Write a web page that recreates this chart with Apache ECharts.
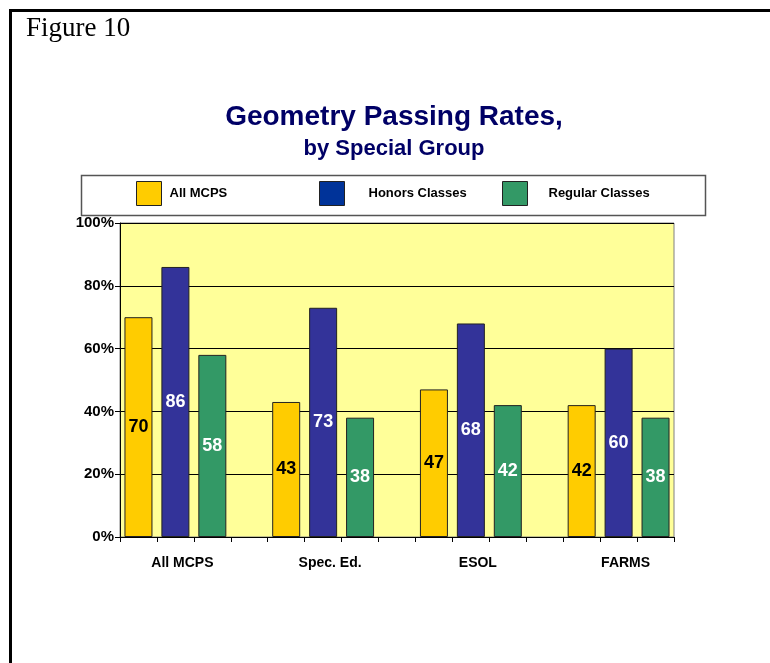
<!DOCTYPE html>
<html>
<head>
<meta charset="utf-8">
<script src="https://cdn.jsdelivr.net/npm/echarts@6/dist/echarts.min.js"></script>
<style>
  html, body { margin: 0; padding: 0; background: #fff; }
  #main { width: 770px; height: 663px; }
</style>
</head>
<body>
<div id="main"></div>
<script>
    // data
    var groups = ['All MCPS', 'Spec. Ed.', 'ESOL', 'FARMS'];
    var seriesNames = ['All MCPS', 'Honors Classes', 'Regular Classes'];
    var allMcps = [70, 43, 47, 42];
    var honors = [86, 73, 68, 60];
    var regular = [58, 38, 42, 38];
    var yTicks = [0, 20, 40, 60, 80, 100];

    var colors = ['#FFCC00', '#333399', '#339966'];
    var legendColors = ['#FFCC00', '#003399', '#339966'];
    var labelColors = ['#000', '#fff', '#fff'];
    var arial = '"Liberation Sans", Arial, sans-serif';

    // each group takes 3 bar slots plus one empty slot (none after the last)
    var slots = [];
    groups.forEach(function (g, gi) {
        for (var k = 0; k < 4; k++) {
            if (gi === groups.length - 1 && k === 3) break;
            slots.push(g + '#' + k);
        }
    });

    function slotData(values, k) {
        var arr = slots.map(function () { return '-'; });
        values.forEach(function (v, gi) { arr[gi * 4 + k] = v; });
        return arr;
    }

    var seriesValues = [allMcps, honors, regular];

    var myChart = echarts.init(document.getElementById('main'));
    var option = {
        animation: false,
        backgroundColor: '#fff',
        title: [{
            text: 'Figure 10',
            left: 26,
            top: 15,
            padding: 0,
            textStyle: {
                fontFamily: '"Liberation Serif", "Times New Roman", serif',
                fontWeight: 'normal',
                fontSize: 27,
                color: '#000'
            }
        }, {
            text: 'Geometry Passing Rates,',
            subtext: 'by Special Group',
            left: 394,
            top: 103,
            textAlign: 'center',
            padding: 0,
            itemGap: 7,
            textStyle: {
                fontFamily: arial,
                fontWeight: 'bold',
                fontSize: 28,
                color: '#000066'
            },
            subtextStyle: {
                fontFamily: arial,
                fontWeight: 'bold',
                fontSize: 22,
                color: '#000066'
            }
        }],
        graphic: [{
            type: 'rect',
            shape: { x: 10.5, y: 10.5, width: 900, height: 800 },
            style: { fill: 'none', stroke: '#000', lineWidth: 3 },
            silent: true
        }, {
            type: 'rect',
            z: -1,
            shape: { x: 81.5, y: 175.5, width: 624, height: 40 },
            style: { fill: '#fff', stroke: '#555', lineWidth: 1.5 },
            silent: true
        }],
        legend: [
            { left: 136, gap: 3 },
            { left: 319, gap: 19 },
            { left: 502, gap: 16 }
        ].map(function (p, i) {
            return {
                data: [seriesNames[i]],
                left: p.left,
                top: 181,
                padding: 0,
                icon: 'rect',
                itemWidth: 25,
                itemHeight: 24,
                selectedMode: false,
                itemStyle: { color: legendColors[i], borderColor: '#222', borderWidth: 1 },
                textStyle: {
                    fontFamily: arial,
                    fontWeight: 'bold',
                    fontSize: 13,
                    color: '#000',
                    padding: [8, 0, 0, p.gap]
                }
            };
        }),
        grid: {
            left: 120,
            right: 96,
            top: 223,
            bottom: 126,
            show: true,
            backgroundColor: '#FFFF99',
            borderColor: '#808080',
            borderWidth: 1
        },
        xAxis: {
            type: 'category',
            data: slots,
            axisLine: { lineStyle: { color: '#000', width: 1 } },
            axisTick: { show: true, interval: 0, length: 5, lineStyle: { color: '#000' } },
            axisLabel: {
                interval: 0,
                margin: 19,
                fontFamily: arial,
                fontWeight: 'bold',
                fontSize: 14,
                color: '#000',
                padding: [0, 0, 0, 14],
                formatter: function (value) {
                    var parts = value.split('#');
                    return parts[1] === '1' ? parts[0] : '';
                }
            }
        },
        yAxis: {
            type: 'value',
            min: yTicks[0],
            max: yTicks[yTicks.length - 1],
            interval: 20,
            axisLine: { show: true, lineStyle: { color: '#000', width: 1 } },
            axisTick: { show: true, length: 5, lineStyle: { color: '#000' } },
            axisLabel: {
                margin: 6,
                fontFamily: arial,
                fontWeight: 'bold',
                fontSize: 15,
                color: '#000',
                formatter: '{value}%'
            },
            splitLine: { show: true, lineStyle: { color: '#000', width: 1 } }
        },
        series: seriesNames.map(function (name, i) {
            return {
                name: name,
                type: 'bar',
                data: slotData(seriesValues[i], i),
                barWidth: 28,
                barGap: '-100%',
                itemStyle: { color: colors[i], borderColor: '#222', borderWidth: 1 },
                label: {
                    show: true,
                    position: 'inside',
                    fontFamily: arial,
                    fontWeight: 'bold',
                    fontSize: 18,
                    color: labelColors[i]
                }
            };
        })
    };
    myChart.setOption(option);
</script>
</body>
</html>
